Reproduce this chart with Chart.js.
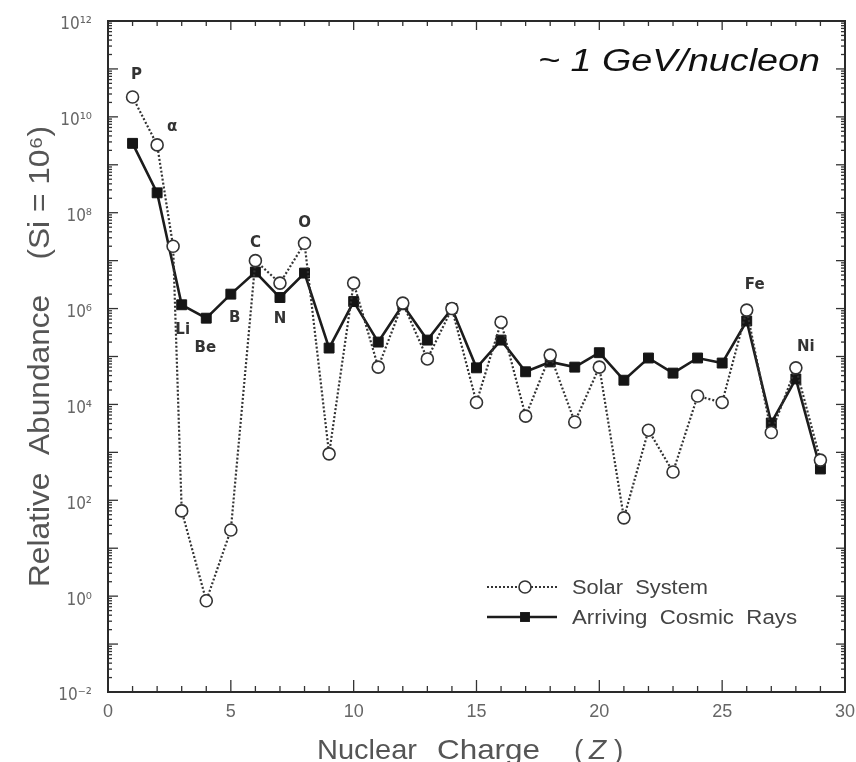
<!DOCTYPE html>
<html>
<head>
<meta charset="utf-8">
<title>Relative Abundance vs Nuclear Charge</title>
<script src="https://cdn.jsdelivr.net/npm/chart.js@4.4.1/dist/chart.umd.min.js"></script>
<style>
    html, body { margin: 0; padding: 0; background: #fff; }
    #wrap { width: 856px; height: 762px; position: relative; }
</style>
</head>
<body>
<div id="wrap"><canvas id="abundChart"></canvas></div>
<script>
// ================================================
// DATA
// ================================================

// Solar system abundances (Si = 1e6), open circles
const zSolar = [1, 2, 2.65, 3, 4, 5, 6, 7, 8, 9, 10, 11, 12, 13, 14, 15, 16, 17, 18, 19, 20, 21, 22, 23, 24, 25, 26, 27, 28, 29];
const solarAbund = [2.6e10, 2.6e9, 2.0e7, 60, 0.8, 24, 1.0e7, 3.4e6, 2.3e7, 930, 3.4e6, 6.0e4, 1.3e6, 8.9e4, 1.0e6, 1.1e4, 5.2e5, 5.7e3, 1.07e5, 4.3e3, 6.0e4, 43, 2.9e3, 390, 1.5e4, 1.1e4, 9.3e5, 2.6e3, 5.8e4, 690];

// Arriving cosmic rays, filled squares
const zCosmic = [1, 2, 3, 4, 5, 6, 7, 8, 9, 10, 11, 12, 13, 14, 15, 16, 17, 18, 19, 20, 21, 22, 23, 24, 25, 26, 27, 28, 29];
const cosmicAbund = [2.8e9, 2.6e8, 1.2e6, 6.3e5, 2.0e6, 5.8e6, 1.7e6, 5.5e6, 1.5e5, 1.4e6, 2.0e5, 1.2e6, 2.2e5, 1.0e6, 5.8e4, 2.2e5, 4.8e4, 7.7e4, 6.0e4, 1.2e5, 3.2e4, 9.3e4, 4.5e4, 9.3e4, 7.3e4, 5.5e5, 4.1e3, 3.4e4, 450];

// Axis ticks
const xTickStep = 5;
const yTickExps = [-2, 0, 2, 4, 6, 8, 10, 12];

// Element names written next to the points
const elemNames = ['P', 'α', 'Li', 'Be', 'B', 'C', 'N', 'O', 'Fe', 'Ni'];
const elemZ = [1, 2, 3, 4, 5, 6, 7, 8, 26, 28];

// label placement: which series the label hangs off, plus pixel offset
const elemPlacement = [
    { s: 'solar', dx: 4, dy: -22 },
    { s: 'solar', dx: 15, dy: -18 },
    { s: 'cosmic', dx: 1, dy: 25 },
    { s: 'cosmic', dx: -1, dy: 30 },
    { s: 'cosmic', dx: 4, dy: 24 },
    { s: 'solar', dx: 0, dy: -18 },
    { s: 'cosmic', dx: 0, dy: 22 },
    { s: 'solar', dx: 0, dy: -20 },
    { s: 'solar', dx: 8, dy: -25 },
    { s: 'solar', dx: 10, dy: -21 }
];

const SUP = { '-': '⁻', '0': '⁰', '1': '¹', '2': '²', '3': '³', '4': '⁴', '5': '⁵', '6': '⁶', '7': '⁷', '8': '⁸', '9': '⁹' };
const toSup = s => String(s).split('').map(c => SUP[c] || c).join('');

const GREY_TEXT = '#555';
const FONT = '"Liberation Sans", Arial, sans-serif';

// Draw text squeezed/stretched horizontally to a given width
function drawFitted(ctx, text, x, y, width, font, color, align) {
    ctx.save();
    ctx.font = font;
    ctx.fillStyle = color;
    ctx.textBaseline = 'alphabetic';
    ctx.textAlign = align || 'left';
    const w = ctx.measureText(text).width;
    ctx.translate(x, y);
    ctx.scale(width / w, 1);
    ctx.fillText(text, 0, 0);
    ctx.restore();
}

// ================================================
// FRAME, TICKS, TITLES, LEGEND
// ================================================
const framePlugin = {
    id: 'frame',
    beforeDatasetsDraw(chart) {
        const { ctx, chartArea: a, scales: { x, y } } = chart;
        const seg = (x1, y1, x2, y2) => {
            ctx.beginPath();
            ctx.moveTo(x1, y1);
            ctx.lineTo(x2, y2);
            ctx.stroke();
        };
        ctx.save();
        ctx.strokeStyle = '#333';
        ctx.lineWidth = 1.3;

        // inward ticks top & bottom, one per unit charge
        for (let z = 0; z <= 30; z++) {
            const px = x.getPixelForValue(z);
            const major = z % 5 === 0;
            seg(px, a.bottom, px, a.bottom - (major ? 12 : 6));
            seg(px, a.top, px, a.top + (major ? 9 : 5));
        }

        // decade ticks left & right with log minor ticks
        for (let e = -2; e <= 12; e++) {
            const py = y.getPixelForValue(Math.pow(10, e));
            seg(a.left, py, a.left + 10, py);
            seg(a.right, py, a.right - 9, py);
            if (e < 12) {
                for (let m = 2; m <= 9; m++) {
                    const pm = y.getPixelForValue(m * Math.pow(10, e));
                    seg(a.left, pm, a.left + 4, pm);
                    seg(a.right, pm, a.right - 4, pm);
                }
            }
        }

        ctx.lineWidth = 2;
        ctx.strokeStyle = '#2a2a2a';
        ctx.strokeRect(a.left, a.top, a.right - a.left, a.bottom - a.top);
        ctx.restore();
    },
    afterDraw(chart) {
        const { ctx, chartArea: a, scales: { x, y } } = chart;
        const dsSolar = chart.data.datasets[0];
        const dsCosmic = chart.data.datasets[1];

        // energy note
        drawFitted(ctx, '~ 1 GeV/nucleon', 538, 71, 282, 'italic 31px ' + FONT, '#111');

        // x axis title
        ctx.save();
        ctx.fillStyle = GREY_TEXT;
        ctx.textBaseline = 'alphabetic';
        ctx.font = '28px ' + FONT;
        drawFitted(ctx, 'Nuclear', 317, 759, 100, '28px ' + FONT, GREY_TEXT);
        drawFitted(ctx, 'Charge', 437, 759, 103, '28px ' + FONT, GREY_TEXT);
        ctx.fillText('(', 574, 759);
        ctx.fillText(')', 614, 759);
        ctx.font = 'italic 28px ' + FONT;
        ctx.fillText('Z', 589, 759);
        ctx.restore();

        // y axis title, rotated
        ctx.save();
        ctx.translate(49, (a.top + a.bottom) / 2);
        ctx.rotate(-Math.PI / 2);
        drawFitted(ctx, 'Relative  Abundance    (Si = 10' + toSup(6) + ')', 0, 0, 461, '30px ' + FONT, GREY_TEXT, 'center');
        ctx.restore();

        // element names
        ctx.save();
        ctx.font = 'bold 15px "DejaVu Sans", sans-serif';
        ctx.fillStyle = '#333';
        ctx.textAlign = 'center';
        ctx.textBaseline = 'middle';
        elemNames.forEach((name, i) => {
            const p = elemPlacement[i];
            const z = elemZ[i];
            const v = p.s === 'solar' ? solarAbund[zSolar.indexOf(z)] : cosmicAbund[zCosmic.indexOf(z)];
            ctx.fillText(name, x.getPixelForValue(z) + p.dx, y.getPixelForValue(v) + p.dy);
        });
        ctx.restore();

        // legend inside the plot, lower right
        const lx0 = 487, lx1 = 557, lmid = 525, tx = 572;
        const rows = [587, 617];
        ctx.save();
        // solar row
        ctx.strokeStyle = dsSolar.borderColor;
        ctx.lineWidth = dsSolar.borderWidth;
        ctx.setLineDash(dsSolar.borderDash);
        ctx.beginPath();
        ctx.moveTo(lx0, rows[0]);
        ctx.lineTo(lx1, rows[0]);
        ctx.stroke();
        ctx.setLineDash([]);
        ctx.beginPath();
        ctx.arc(lmid, rows[0], dsSolar.pointRadius, 0, Math.PI * 2);
        ctx.fillStyle = '#fff';
        ctx.fill();
        ctx.lineWidth = dsSolar.pointBorderWidth;
        ctx.stroke();
        // cosmic row
        ctx.strokeStyle = dsCosmic.borderColor;
        ctx.lineWidth = dsCosmic.borderWidth;
        ctx.beginPath();
        ctx.moveTo(lx0, rows[1]);
        ctx.lineTo(lx1, rows[1]);
        ctx.stroke();
        const half = dsCosmic.pointRadius * Math.SQRT1_2;
        ctx.fillStyle = dsCosmic.pointBackgroundColor;
        ctx.fillRect(lmid - half, rows[1] - half, half * 2, half * 2);
        ctx.restore();

        drawFitted(ctx, dsSolar.label, tx, rows[0] + 7, 136, '20px ' + FONT, '#444');
        drawFitted(ctx, dsCosmic.label, tx, rows[1] + 7, 225, '20px ' + FONT, '#444');
    }
};

// ================================================
// CHART
// ================================================
function initAbundChart() {
    const ctx = document.getElementById('abundChart');

    new Chart(ctx, {
        type: 'line',
        data: {
            datasets: [
                {
                    label: 'Solar  System',
                    data: zSolar.map((z, i) => ({ x: z, y: solarAbund[i] })),
                    borderColor: '#333',
                    borderWidth: 2.2,
                    borderDash: [2, 2],
                    tension: 0,
                    pointStyle: 'circle',
                    pointRadius: 6,
                    pointBorderWidth: 1.6,
                    pointBackgroundColor: '#fff',
                    pointBorderColor: '#333'
                },
                {
                    label: 'Arriving  Cosmic  Rays',
                    data: zCosmic.map((z, i) => ({ x: z, y: cosmicAbund[i] })),
                    borderColor: '#1c1c1c',
                    borderWidth: 2.6,
                    tension: 0,
                    pointStyle: 'rect',
                    pointRadius: 7,
                    pointBorderWidth: 1,
                    pointBackgroundColor: '#151515',
                    pointBorderColor: '#151515'
                }
            ]
        },
        options: {
            responsive: true,
            maintainAspectRatio: false,
            animation: false,
            layout: {
                padding: { top: 21, right: 0, left: 0, bottom: 0 }
            },
            plugins: {
                legend: { display: false },
                tooltip: { enabled: false }
            },
            scales: {
                x: {
                    type: 'linear',
                    min: 0,
                    max: 30,
                    grid: { display: false },
                    border: { display: false },
                    ticks: {
                        stepSize: xTickStep,
                        color: '#666',
                        padding: 1,
                        font: { size: 18, family: FONT }
                    },
                    afterFit: scale => { scale.height = 70; }
                },
                y: {
                    type: 'logarithmic',
                    min: Math.pow(10, yTickExps[0]),
                    max: Math.pow(10, yTickExps[yTickExps.length - 1]),
                    grid: { display: false },
                    border: { display: false },
                    afterBuildTicks: scale => {
                        scale.ticks = yTickExps.map(e => ({ value: Math.pow(10, e) }));
                    },
                    ticks: {
                        color: '#666',
                        padding: 8,
                        labelOffset: 4,
                        font: { size: 17, family: '"DejaVu Sans Condensed", "DejaVu Sans", sans-serif' },
                        callback: value => '10' + toSup(Math.round(Math.log10(value)))
                    },
                    afterFit: scale => { scale.width = 108; }
                }
            }
        },
        plugins: [framePlugin]
    });
}

initAbundChart();
</script>
</body>
</html>
